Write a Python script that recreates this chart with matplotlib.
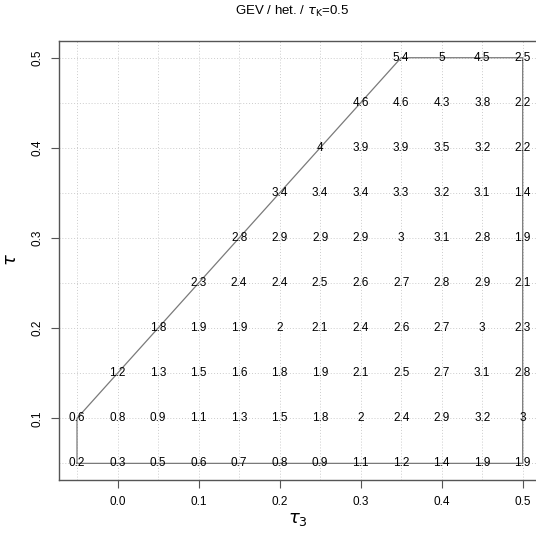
import matplotlib
matplotlib.use('Agg')
import matplotlib.pyplot as plt

plt.rcParams['font.family'] = ['Liberation Sans', 'DejaVu Sans']
plt.rcParams['mathtext.fontset'] = 'dejavusans'

# сетка значений tau3 (ось X) и tau (ось Y)
tau3 = [-0.05, 0.0, 0.05, 0.1, 0.15, 0.2, 0.25, 0.3, 0.35, 0.4, 0.45, 0.5]
tau = [0.05, 0.1, 0.15, 0.2, 0.25, 0.3, 0.35, 0.4, 0.45, 0.5]

N = None
# значения по строкам, снизу вверх (tau = 0.05 ... 0.5)
values = [
    [0.2, 0.3, 0.5, 0.6, 0.7, 0.8, 0.9, 1.1, 1.2, 1.4, 1.9, 1.9],
    [0.6, 0.8, 0.9, 1.1, 1.3, 1.5, 1.8, 2.0, 2.4, 2.9, 3.2, 3.0],
    [N, 1.2, 1.3, 1.5, 1.6, 1.8, 1.9, 2.1, 2.5, 2.7, 3.1, 2.8],
    [N, N, 1.8, 1.9, 1.9, 2.0, 2.1, 2.4, 2.6, 2.7, 3.0, 2.3],
    [N, N, N, 2.3, 2.4, 2.4, 2.5, 2.6, 2.7, 2.8, 2.9, 2.1],
    [N, N, N, N, 2.8, 2.9, 2.9, 2.9, 3.0, 3.1, 2.8, 1.9],
    [N, N, N, N, N, 3.4, 3.4, 3.4, 3.3, 3.2, 3.1, 1.4],
    [N, N, N, N, N, N, 4.0, 3.9, 3.9, 3.5, 3.2, 2.2],
    [N, N, N, N, N, N, N, 4.6, 4.6, 4.3, 3.8, 2.2],
    [N, N, N, N, N, N, N, N, 5.4, 5.0, 4.5, 2.5],
]

# граница допустимой области
border_x = [-0.05, -0.05, 0.35, 0.5, 0.5, -0.05]
border_y = [0.05, 0.1, 0.5, 0.5, 0.05, 0.05]

fig = plt.figure(figsize=(5.36, 5.41), dpi=100)
ax = fig.add_axes([0.1104, 0.1135, 0.898, 0.8098])

for t in tau3:
    ax.axvline(t, color='#cccccc', lw=0.7, ls=(0, (1, 2)), zorder=0)
for t in tau:
    ax.axhline(t, color='#cccccc', lw=0.7, ls=(0, (1, 2)), zorder=0)

ax.plot(border_x, border_y, color='#7a7a7a', lw=0.9, zorder=1)

for i, t in enumerate(tau):
    for j, t3 in enumerate(tau3):
        v = values[i][j]
        if v is None:
            continue
        ax.text(t3, t, '%g' % v, ha='center', va='center', fontsize=8.5, zorder=2)

ax.set_xlim(-0.072, 0.522)
ax.set_ylim(0.032, 0.518)
ax.set_xticks([0.0, 0.1, 0.2, 0.3, 0.4, 0.5])
ax.set_xticklabels(['0.0', '0.1', '0.2', '0.3', '0.4', '0.5'])
ax.set_yticks([0.1, 0.2, 0.3, 0.4, 0.5])
ax.set_yticklabels(['0.1', '0.2', '0.3', '0.4', '0.5'], rotation=90, va='center')
ax.tick_params(direction='out', length=6, width=0.8, color='#555555', labelsize=8.5)
ax.tick_params(axis='x', pad=6)
ax.tick_params(axis='y', pad=5)
for s in ax.spines.values():
    s.set_color('#555555')
    s.set_linewidth(1.0)

fig.text(0.545, 0.978, r'GEV / het. / $\tau_{\mathrm{K}}$=0.5', ha='center', va='center', fontsize=9.5)
fig.text(0.556, 0.039, r'$\tau_3$', ha='center', va='center', fontsize=13)
fig.text(0.022, 0.52, r'$\tau$', ha='center', va='center', fontsize=13, rotation=90)

fig.savefig('out.png', dpi=100)
